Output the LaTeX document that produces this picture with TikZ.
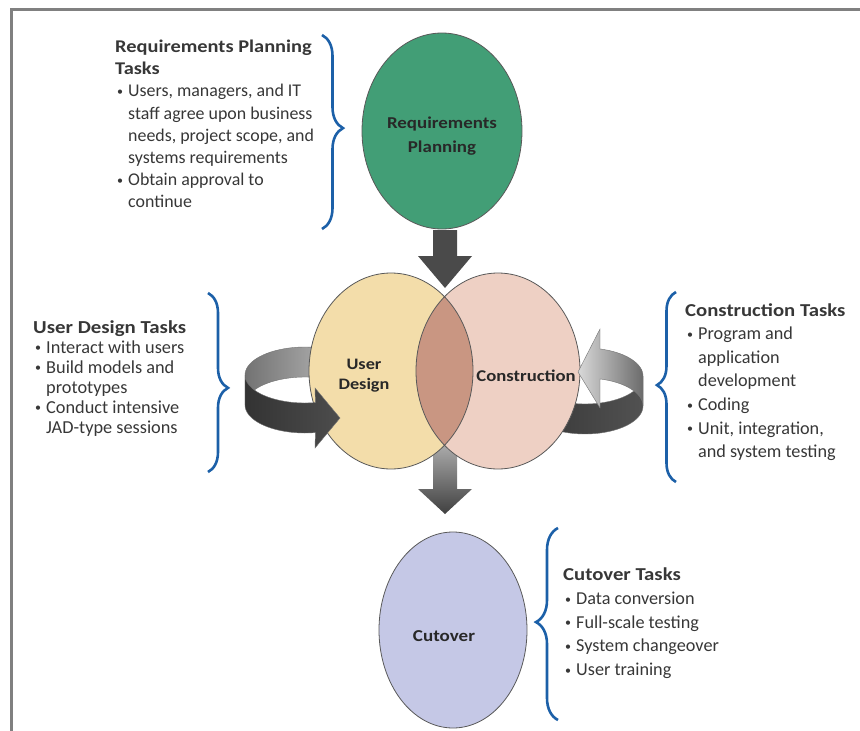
\documentclass[tikz,border=0pt]{standalone}
\usepackage{fontspec}
\setmainfont{Carlito}
\newfontfamily\widefont[FakeStretch=1.14]{Carlito}
\usetikzlibrary{shapes.geometric,decorations.pathreplacing}
\definecolor{rpgreen}{RGB}{66,158,118}
\definecolor{udtan}{RGB}{243,221,170}
\definecolor{cnpink}{RGB}{238,208,196}
\definecolor{overlapc}{RGB}{201,150,130}
\definecolor{cutlav}{RGB}{197,200,230}
\definecolor{braceblue}{RGB}{28,96,168}
\definecolor{txt}{RGB}{55,55,55}
\definecolor{lbltxt}{RGB}{40,40,40}
\definecolor{arrowdark}{RGB}{74,74,74}
\newcommand{\myb}{\makebox[13pt][l]{\hspace{2pt}\raisebox{1.2pt}{\fontsize{12}{12}\selectfont\textbullet}}}
\newcommand{\myc}{\hspace*{13pt}}
\newcommand{\ttl}[1]{{\widefont\bfseries #1}}
\begin{document}
\begin{tikzpicture}[x=1pt,y=-1pt,
  tasks/.style={anchor=north west, inner sep=0pt, align=left, text=txt},
  lbl/.style={inner sep=0pt, align=center, text=lbltxt},
  phase/.style={ellipse, inner sep=0pt, outer sep=0pt},
  outline/.style={draw=black!65, line width=0.8pt},
  bluebrace/.style={decorate, draw=braceblue, line width=2.6pt},
  blockarrow/.style={fill=arrowdark},
  band/.style={draw=black!55, line width=0.4pt},
]
\useasboundingbox (0,0) rectangle (860,731);
% frame
\draw[black!50, line width=3pt] (11,740) -- (11,9) -- (870,9);

% left loop: back band (behind User Design)
\path[band, left color=black!55, right color=black!22]
  plot[domain=180:0, samples=40] ({305+60*cos(\x)},{375-28*sin(\x)})
  -- plot[domain=0:180, samples=40] ({305+60*cos(\x)},{405-28*sin(\x)}) -- cycle;

% right loop: front band (behind Construction)
\path[band, left color=black!78, right color=black!68]
  plot[domain=0:150, samples=40] ({585+58*cos(\x)},{376+28*sin(\x)})
  -- plot[domain=150:0, samples=40] ({585+58*cos(\x)},{406+28*sin(\x)}) -- cycle;

% lower down arrow (behind circles)
\path[top color=black!30, bottom color=black!75]
  (433,440) -- (457,440) -- (457,489) -- (472,489) -- (445,514) -- (418,489) -- (433,489) -- cycle;

% phases
\node[phase, fill=rpgreen, outline, minimum width=160pt, minimum height=196pt] (rp) at (442,131) {};
\node[phase, fill=udtan, minimum width=164pt, minimum height=196pt] (ud) at (391,371) {};
\node[phase, fill=cnpink, minimum width=164pt, minimum height=196pt] (cn) at (498,371) {};
\begin{scope}
  \clip (391,371) ellipse [x radius=82, y radius=98];
  \fill[overlapc] (498,371) ellipse [x radius=82, y radius=98];
\end{scope}
\draw[outline] (391,371) ellipse [x radius=82, y radius=98];
\draw[outline] (498,371) ellipse [x radius=82, y radius=98];
\node[phase, fill=cutlav, outline, minimum width=148pt, minimum height=196pt] (co) at (453,630) {};

% upper down arrow
\path[blockarrow]
  (433,230) -- (457,230) -- (457,256) -- (472,256) -- (445,288) -- (418,256) -- (433,256) -- cycle;

% left loop: front band with arrowhead
\path[band, left color=black!80, right color=black!70]
  plot[domain=180:80, samples=40] ({305+60*cos(\x)},{375+28*sin(\x)})
  -- (315,388) -- (340,418) -- (315,448)
  -- plot[domain=80:180, samples=40] ({305+60*cos(\x)},{405+28*sin(\x)}) -- cycle;

% right loop: back band with arrowhead
\path[band, left color=black!15, right color=black!58]
  (600,329) -- (578,372) -- (600,408) -- (600,379)
  -- plot[domain=75:0, samples=40] ({585+58*cos(\x)},{406-28*sin(\x)})
  -- plot[domain=0:75, samples=40] ({585+58*cos(\x)},{376-28*sin(\x)}) -- cycle;

% phase labels
\node[lbl, font=\widefont\bfseries\fontsize{16.6}{24}\selectfont] (rpl) at (442,136) {Requirements\\Planning};
\node[lbl, font=\widefont\bfseries\fontsize{16}{20}\selectfont] (udl) at (364,376) {User\\Design};
\node[lbl, font=\widefont\bfseries\fontsize{16.4}{20}\selectfont] (cnl) at (526,376) {Construction};
\node[lbl, font=\widefont\bfseries\fontsize{16.7}{20}\selectfont] (col) at (444,636) {Cutover};

% braces
\draw[bluebrace, decoration={brace, amplitude=21pt, aspect=0.48}] (322,35) -- (322,229);
\draw[bluebrace, decoration={brace, amplitude=20pt, aspect=0.53}] (208,293) -- (208,472);
\draw[bluebrace, decoration={brace, amplitude=19pt, aspect=0.51}] (676,482) -- (676,292);
\draw[bluebrace, decoration={brace, amplitude=22pt, aspect=0.51}] (558,720) -- (558,528);

% task texts
\node[tasks, font=\fontsize{17.9}{22.1}\selectfont] (rpt) at (115,40)
{\ttl{Requirements Planning}\\
\ttl{Tasks}\\
\myb Users, managers, and IT\\
\myc staff agree upon business\\
\myc needs, project scope, and\\
\myc systems requirements\\
\myb Obtain approval to\\
\myc continue};

\node[tasks, font=\fontsize{18.3}{20}\selectfont] (udt) at (33,320)
{\ttl{User Design Tasks}\\
\myb Interact with users\\
\myb Build models and\\
\myc prototypes\\
\myb Conduct intensive\\
\myc JAD-type sessions};

\node[tasks, font=\fontsize{18.2}{23.6}\selectfont] (cnt) at (685,303)
{\ttl{Construction Tasks}\\
\myb Program and\\
\myc application\\
\myc development\\
\myb Coding\\
\myb Unit, integration,\\
\myc and system testing};

\node[tasks, font=\fontsize{18.2}{23.6}\selectfont] (cot) at (563,568)
{\ttl{Cutover Tasks}\\
\myb Data conversion\\
\myb Full-scale testing\\
\myb System changeover\\
\myb User training};
\end{tikzpicture}
\end{document}
